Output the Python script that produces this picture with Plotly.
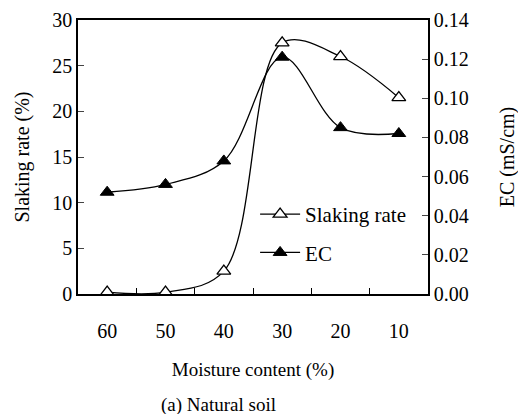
import plotly.graph_objects as go

moisture = [60, 50, 40, 30, 20, 10]
slaking_rate = [0.2, 0.2, 2.5, 27.5, 26.0, 21.5]
ec = [0.052, 0.056, 0.068, 0.121, 0.085, 0.082]
x_tick_labels = ["60", "50", "40", "30", "20", "10"]
x_between_ticks = [55, 45, 35, 25, 15]

FONT = "Liberation Serif"

fig = go.Figure()
fig.add_trace(go.Scatter(
    x=moisture, y=slaking_rate, name="Slaking rate", mode="lines+markers",
    legendgroup="a",
    line=dict(color="black", width=1.3, shape="spline", smoothing=1.0),
    marker=dict(symbol="triangle-up", size=12, color="white",
                line=dict(color="black", width=1.3)),
    yaxis="y"))
fig.add_trace(go.Scatter(
    x=moisture, y=ec, name="EC", mode="lines+markers",
    legendgroup="b",
    line=dict(color="black", width=1.3, shape="spline", smoothing=1.0),
    marker=dict(symbol="triangle-up", size=12, color="black",
                line=dict(color="black", width=1)),
    yaxis="y2"))

fig.update_layout(
    width=518, height=406,
    margin=dict(l=70, r=98, t=12, b=120),
    paper_bgcolor="white", plot_bgcolor="white",
    font=dict(family=FONT, color="black", size=20),
    showlegend=True,
    legend=dict(x=0.506, y=0.365, xanchor="left", yanchor="top",
                bgcolor="rgba(0,0,0,0)", font=dict(size=21, family=FONT),
                itemwidth=40, tracegroupgap=8),
    xaxis=dict(range=[65, 5], tickvals=moisture, ticktext=x_tick_labels,
               ticks="", showgrid=False, zeroline=False, automargin=False,
               showline=True, linecolor="black", linewidth=1.5, mirror=True,
               tickfont=dict(size=20), ticklabelstandoff=18,
               minor=dict(tickvals=x_between_ticks, ticks="inside", ticklen=6,
                          tickcolor="black", tickwidth=1, showgrid=False),
               title=dict(text="Moisture content (%)", font=dict(size=19), standoff=22)),
    yaxis=dict(range=[0, 30], dtick=5, ticks="inside", ticklen=6, automargin=False,
               showgrid=False, zeroline=False, showline=True,
               linecolor="black", linewidth=1.5, tickfont=dict(size=20),
               title=dict(text="Slaking rate (%)", font=dict(size=20), standoff=17)),
    yaxis2=dict(range=[0, 0.14], dtick=0.02, tickformat=".2f", overlaying="y",
                side="right", ticks="inside", ticklen=6, showgrid=False,
                zeroline=False, showline=True, linecolor="black", linewidth=1.5,
                tickfont=dict(size=20), automargin=False,
                title=dict(text="EC (mS/cm)", font=dict(size=20), standoff=32)),
    annotations=[dict(text="(a) Natural soil", xref="paper", yref="paper",
                      x=0.4, y=-0.405, xanchor="center", yanchor="middle",
                      showarrow=False, font=dict(size=19, family=FONT))],
)

fig.write_html("out.html")
